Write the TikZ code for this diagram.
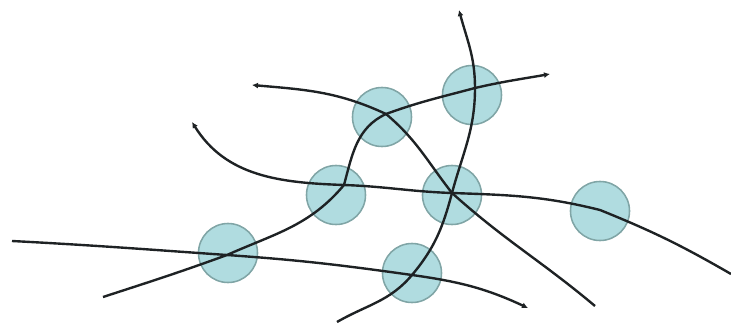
\documentclass[tikz,border=0pt]{standalone}
\usepackage{tikz}
\usetikzlibrary{arrows.meta}
\definecolor{celeste}{RGB}{176,220,224}
\definecolor{bordeceleste}{RGB}{128,165,166}
\definecolor{trazo}{RGB}{30,34,36}
\tikzset{
  burbuja/.style={circle,draw=bordeceleste,line width=1.1pt,fill=celeste,minimum size=1.475cm,inner sep=0pt},
  curva/.style={trazo,line width=1.7pt},
  punta/.style={-{Latex[length=1.5mm,width=1.5mm]}},
  puntaini/.style={{Latex[length=1.5mm,width=1.5mm]}-},
}
\begin{document}
\begin{tikzpicture}[x=0.025cm,y=0.025cm]
  \useasboundingbox (0,0) rectangle (731,324);
  % burbujas
  \node[burbuja] (b1) at (228,71) {};
  \node[burbuja] (b2) at (336,129) {};
  \node[burbuja] (b3) at (382,207) {};
  \node[burbuja] (b4) at (472,229) {};
  \node[burbuja] (b5) at (452,129) {};
  \node[burbuja] (b6) at (600,113) {};
  \node[burbuja] (b7) at (412,51) {};
  % cruces
  \coordinate (p1) at (227,69);
  \coordinate (p2) at (344,139);
  \coordinate (p3) at (386,210);
  \coordinate (p4) at (475,236);
  \coordinate (p5) at (452,131);
  \coordinate (p6) at (600,114);
  \coordinate (p7) at (412,49);
  % extremos
  \coordinate (s1) at (12,83);   \coordinate (e1) at (528,16);
  \coordinate (s2) at (103,27);  \coordinate (e2) at (550,250);
  \coordinate (s3) at (192,202); \coordinate (e3) at (731,50);
  \coordinate (s4) at (252,239); \coordinate (e4) at (595,18);
  \coordinate (s5) at (459,314); \coordinate (e5) at (337,2);
  % trayectorias
  \draw[curva,punta] (s1) to[out=-3,in=176] (p1) to[out=-4,in=172] (p7) to[out=-8,in=155] (e1);
  \draw[curva,punta] (s2) to[out=18,in=200] (p1) to[out=24,in=230] (p2)
    to[out=75,in=205] (p3) to[out=20,in=195] (p4) to[out=13,in=190] (e2);
  \draw[curva,puntaini] (s3) to[out=-58,in=178] (p2) to[out=-2,in=178] (p5)
    to[out=-2,in=166] (p6) to[out=-22,in=150] (e3);
  \draw[curva,puntaini] (s4) to[out=-5,in=155] (p3) to[out=-40,in=128] (p5) to[out=-42,in=140] (e4);
  \draw[curva,puntaini] (s5) to[out=-75,in=90] (p4) to[out=-90,in=75] (p5)
    to[out=-105,in=50] (p7) to[out=-130,in=30] (e5);
\end{tikzpicture}
\end{document}
